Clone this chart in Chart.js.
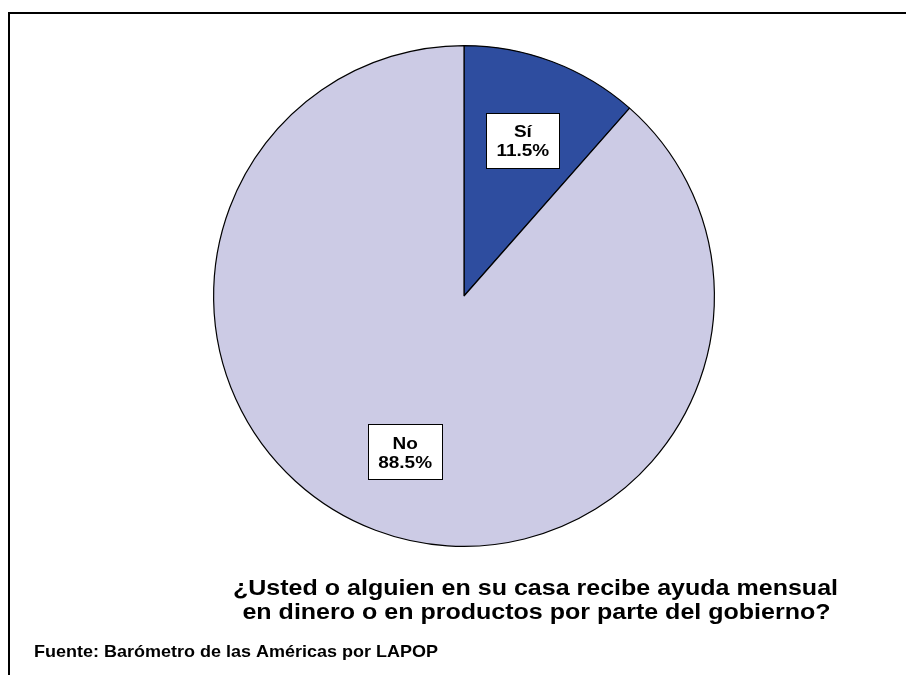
<!DOCTYPE html>
<html>
<head>
<meta charset="utf-8">
<script src="https://cdn.jsdelivr.net/npm/chart.js@4/dist/chart.umd.min.js"></script>
<style>
html,body{margin:0;padding:0;background:#fff;}
#wrap{position:relative;width:906px;height:675px;}
</style>
</head>
<body>
<div id="wrap"><canvas id="c" width="906" height="675"></canvas></div>
<script>
const categories = ["Sí", "No"];
const values = [11.5, 88.5];
const valueLabels = ["11.5%", "88.5%"];
const sliceColors = ["#2E4D9F", "#CCCBE5"];
const titleLines = ["¿Usted o alguien en su casa recibe ayuda mensual", "en dinero o en productos por parte del gobierno?"];
const sourceText = "Fuente: Barómetro de las Américas por LAPOP";

const FONT = '"Liberation Sans", Arial, sans-serif';
const SX = 1.15; // horizontal stretch of the original picture

function drawText(ctx, text, x, y, align, sx) {
  ctx.save();
  ctx.translate(x, y);
  ctx.scale(sx, 1);
  ctx.textAlign = align;
  ctx.textBaseline = 'alphabetic';
  ctx.fillText(text, 0, 0);
  ctx.restore();
}

const decor = {
  id: 'decor',
  afterDatasetsDraw(chart) {
    const ctx = chart.ctx;
    const meta = chart.getDatasetMeta(0);
    ctx.save();
    meta.data.forEach((arc, i) => {
      const mid = (arc.startAngle + arc.endAngle) / 2;
      const r = arc.outerRadius * 0.665;
      const cx = arc.x + Math.cos(mid) * r;
      const cy = arc.y + Math.sin(mid) * r;
      ctx.font = 'bold 16.5px ' + FONT;
      const w1 = ctx.measureText(categories[i]).width * SX;
      const w2 = ctx.measureText(valueLabels[i]).width * SX;
      const bw = Math.round(Math.max(w1, w2) + 20);
      const bh = 55;
      const bx = Math.round(cx - bw / 2) + 0.5;
      const by = Math.round(cy - bh / 2) + 0.5;
      ctx.fillStyle = '#fff';
      ctx.fillRect(bx, by, bw, bh);
      ctx.strokeStyle = '#000';
      ctx.lineWidth = 1;
      ctx.strokeRect(bx, by, bw, bh);
      ctx.fillStyle = '#000';
      drawText(ctx, categories[i], cx, cy - 3, 'center', SX);
      drawText(ctx, valueLabels[i], cx, cy + 16, 'center', SX);
    });
    ctx.restore();
  },
  afterDraw(chart) {
    const ctx = chart.ctx;
    ctx.save();
    ctx.strokeStyle = '#000';
    ctx.lineWidth = 2;
    ctx.beginPath();
    ctx.moveTo(9, 675);
    ctx.lineTo(9, 13);
    ctx.lineTo(906, 13);
    ctx.stroke();
    ctx.fillStyle = '#000';
    ctx.font = 'bold 21.5px ' + FONT;
    const tw = ctx.measureText(titleLines[0]).width;
    const tsx = 605 / tw;
    drawText(ctx, titleLines[0], 535.5, 595, 'center', tsx);
    drawText(ctx, titleLines[1], 536.5, 619, 'center', tsx);
    ctx.font = 'bold 17px ' + FONT;
    const sw = ctx.measureText(sourceText).width;
    drawText(ctx, sourceText, 34, 657, 'left', 404 / sw);
    ctx.restore();
  }
};

new Chart(document.getElementById('c'), {
  type: 'pie',
  data: {
    labels: categories,
    datasets: [{
      data: values,
      backgroundColor: sliceColors,
      borderColor: '#000',
      borderWidth: 1.2,
      borderAlign: 'center'
    }]
  },
  options: {
    responsive: false,
    animation: false,
    events: [],
    layout: { padding: { left: 213, right: 191, top: 45, bottom: 128 } },
    plugins: { legend: { display: false }, tooltip: { enabled: false }, title: { display: false } }
  },
  plugins: [decor]
});
</script>
</body>
</html>
